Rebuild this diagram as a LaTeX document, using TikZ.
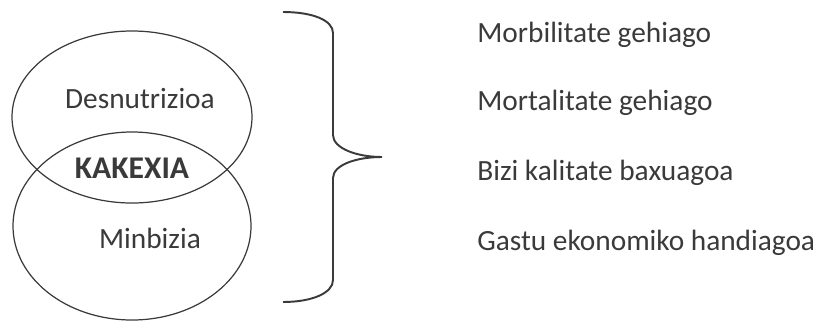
\documentclass[tikz,border=0pt]{standalone}
\usepackage{fontspec}
\setmainfont{Carlito}
\definecolor{inkgray}{HTML}{3A3A3A}
\begin{document}
\begin{tikzpicture}[x=0.02cm, y=0.02cm,
	label text/.style={text=inkgray, font=\fontsize{16.7}{20}\selectfont, inner sep=0pt},
	effect/.style={label text, anchor=base west}]
	\useasboundingbox (0,0) rectangle (820,322);
	% the two sets
	\draw[inkgray, line width=0.7pt] (132,205) ellipse [x radius=120, y radius=86];
	\draw[inkgray, line width=0.7pt] (132,96) ellipse [x radius=119, y radius=94];
	\node[label text, anchor=base] (desn) at (140,214) {Desnutrizioa};
	\node[label text, anchor=base, font=\fontsize{18}{20}\selectfont\bfseries] (kak) at (132,144) {KAKEXIA};
	\node[label text, anchor=base] (minb) at (150,74) {Minbizia};
	% brace
	\draw[inkgray, line width=1.1pt] (283,310) .. controls (312,310) and (333,302) .. (333,289) -- (333,187)
		.. controls (333,174) and (356,165) .. (382,165)
		.. controls (356,165) and (333,157) .. (333,144) -- (333,42)
		.. controls (333,29) and (312,20) .. (283,20);
	% effects
	\node[effect] (morb) at (477,280) {Morbilitate gehiago};
	\node[effect] (mort) at (477,212) {Mortalitate gehiago};
	\node[effect] (bizi) at (477,142) {Bizi kalitate baxuagoa};
	\node[effect] (gast) at (477,72) {Gastu ekonomiko handiagoa};
\end{tikzpicture}
\end{document}
